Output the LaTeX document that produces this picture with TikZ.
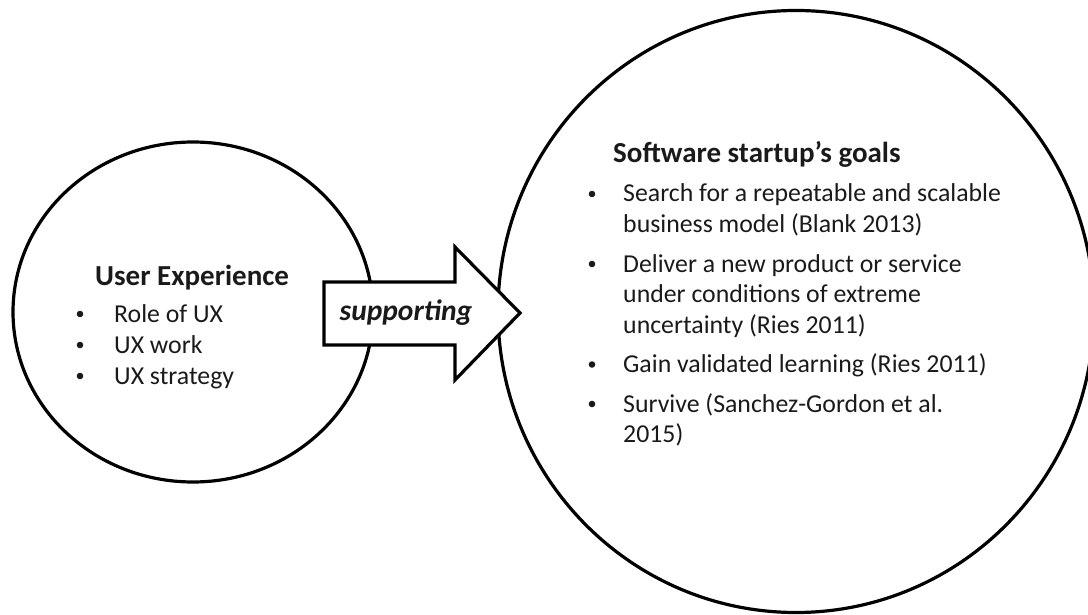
\documentclass[tikz,border=0pt]{standalone}
\usepackage{fontspec}
\setmainfont{Carlito}
\usetikzlibrary{shapes.geometric}
\definecolor{ink}{HTML}{1A1A1A}
\begin{document}
\begin{tikzpicture}[x=1pt,y=-1pt,
  ring/.style={draw=black, ellipse, line width=3.2pt, inner sep=0pt},
  heading/.style={anchor=base west, inner sep=0pt, text=ink, font=\bfseries\fontsize{29}{31}\selectfont},
  itemtext/.style={anchor=base west, inner sep=0pt, text=ink, font=\fontsize{25.8}{31}\selectfont},
  bulletmark/.style={circle, fill=ink, inner sep=0pt, minimum size=6.6pt, yshift=8pt},
  ]
\useasboundingbox (0,0) rectangle (1088,615);
\clip (0,0) rectangle (1088,615);

% the two circles
\node[ring, minimum width=360pt, minimum height=340pt] (ux) at (193,312) {};
\node[ring, minimum width=596pt, minimum height=602pt] (goals) at (796,311.5) {};

% block arrow between them
\coordinate (tailtop) at (324,282);
\coordinate (tailbot) at (324,345);
\coordinate (neckt) at (455,282);
\coordinate (neckb) at (455,345);
\coordinate (barbt) at (455,247);
\coordinate (barbb) at (455,380);
\coordinate (tip) at (520,313);
\draw[line width=3.2pt, fill=white, line join=miter]
  (tailtop) -- (neckt) -- (barbt) -- (tip) -- (barbb) -- (neckb) -- (tailbot) -- cycle;
\node[anchor=base, inner sep=0pt, text=ink, font=\bfseries\itshape\fontsize{29.5}{31}\selectfont] (sup) at (406,320) {supporting};

% left circle text
\node[heading] (uxh) at (95,285) {User Experience};
\node[bulletmark] (ub1) at (80,322) {};
\node[itemtext] (ui1) at (114,322) {Role of UX};
\node[bulletmark] (ub2) at (80,353) {};
\node[itemtext] (ui2) at (114,353) {UX work};
\node[bulletmark] (ub3) at (80,384) {};
\node[itemtext] (ui3) at (114,384) {UX strategy};

% right circle text
\node[heading] (gh) at (613,163) {Software startup’s goals};
\node[bulletmark] (gb1) at (592,202) {};
\node[itemtext] (g1a) at (623,202) {Search for a repeatable and scalable};
\node[itemtext] (g1b) at (623,232.5) {business model (Blank 2013)};
\node[bulletmark] (gb2) at (592,272) {};
\node[itemtext] (g2a) at (623,272) {Deliver a new product or service};
\node[itemtext] (g2b) at (623,302.5) {under conditions of extreme};
\node[itemtext] (g2c) at (623,333) {uncertainty (Ries 2011)};
\node[bulletmark] (gb3) at (592,372.5) {};
\node[itemtext] (g3a) at (623,372.5) {Gain validated learning (Ries 2011)};
\node[bulletmark] (gb4) at (592,412) {};
\node[itemtext] (g4a) at (623,412) {Survive (Sanchez-Gordon et al.};
\node[itemtext] (g4b) at (623,442.5) {2015)};
\end{tikzpicture}
\end{document}
